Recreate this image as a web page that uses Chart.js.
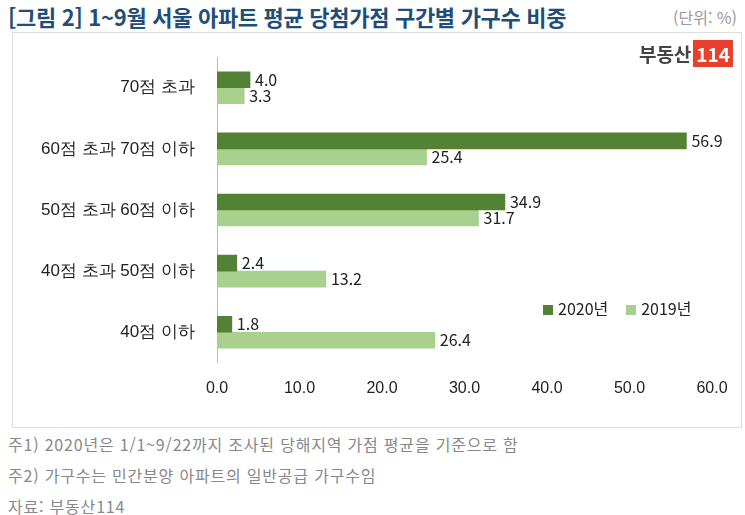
<!DOCTYPE html>
<html lang="ko">
<head>
<meta charset="UTF-8" />
<script src="https://cdn.jsdelivr.net/npm/chart.js@4.4.0/dist/chart.umd.min.js"></script>
<style>
  body { margin: 0; width: 745px; height: 515px; background: #fff; font-family: "Noto Sans CJK KR", "Noto Sans", sans-serif; position: relative; overflow: hidden; }
  .title { position: absolute; left: 8px; top: 0px; font-size: 22px; font-weight: bold; color: #1f4e79; letter-spacing: -0.3px; }
  .unit { position: absolute; right: 8px; top: 5px; font-size: 16px; color: #999; }
  .box { position: absolute; left: 12px; top: 32px; width: 728px; height: 394px; border: 1px solid #ddd; }
  .logo { position: absolute; right: 12px; top: 40px; font-size: 19px; font-weight: bold; color: #444; }
  .logo span { background: #e8402c; color: #fff; padding: 0 3px; margin-left: 2px; }
  .legend { position: absolute; left: 543px; top: 296px; font-size: 16px; color: #222; }
  .legend i { display: inline-block; width: 10px; height: 10px; margin: 0 5px 0 0; }
  .wrap { position: absolute; left: 13px; top: 33px; width: 727px; height: 373px; }
  .note { position: absolute; left: 8px; font-size: 16px; color: #888; letter-spacing: 0.8px; }
</style>
</head>
<body>
<div class="title">[그림 2] 1~9월 서울 아파트 평균 당첨가점 구간별 가구수 비중</div>
<div class="unit">(단위: %)</div>
<div class="box"></div>
<div class="wrap"><canvas id="c"></canvas></div>
<div class="logo">부동산<span>114</span></div>
<div class="legend"><i style="background:#548235"></i>2020년&nbsp;&nbsp;&nbsp;&nbsp;<i style="background:#a9d18e"></i>2019년</div>
<div class="note" style="top:432px">주1) 2020년은 1/1~9/22까지 조사된 당해지역 가점 평균을 기준으로 함</div>
<div class="note" style="top:463px">주2) 가구수는 민간분양 아파트의 일반공급 가구수임</div>
<div class="note" style="top:494px">자료: 부동산114</div>
<script>
const categories = ['70점 초과', '60점 초과 70점 이하', '50점 초과 60점 이하', '40점 초과 50점 이하', '40점 이하'];
const values2020 = [4.0, 56.9, 34.9, 2.4, 1.8];
const values2019 = [3.3, 25.4, 31.7, 13.2, 26.4];

const labelPlugin = {
  id: 'vals',
  afterDatasetsDraw(chart) {
    const ctx = chart.ctx;
    ctx.save();
    ctx.font = '16px "Noto Sans CJK KR", sans-serif';
    ctx.fillStyle = '#222';
    ctx.textBaseline = 'middle';
    chart.data.datasets.forEach((ds, i) => {
      chart.getDatasetMeta(i).data.forEach((bar, j) => {
        ctx.fillText(ds.data[j].toFixed(1), bar.x + 5, bar.y);
      });
    });
    ctx.restore();
  }
};

new Chart(document.getElementById('c'), {
  type: 'bar',
  data: {
    labels: categories,
    datasets: [
      { label: '2020년', data: values2020, backgroundColor: '#548235', barThickness: 16 },
      { label: '2019년', data: values2019, backgroundColor: '#a9d18e', barThickness: 16 }
    ]
  },
  options: {
    indexAxis: 'y',
    responsive: true,
    maintainAspectRatio: false,
    animation: false,
    layout: { padding: { top: 0, right: 28, bottom: 0, left: 0 } },
    plugins: { legend: { display: false }, tooltip: { enabled: false } },
    scales: {
      x: {
        min: 0, max: 60,
        grid: { display: false },
        border: { display: false },
        ticks: { stepSize: 10, color: '#222', font: { size: 16 }, padding: 8, callback: (v) => v.toFixed(1) }
      },
      y: {
        grid: { display: false },
        border: { color: '#bbb' },
        afterFit: (s) => { s.width = 204; },
        ticks: { color: '#222', font: { size: 17 }, padding: 14 }
      }
    }
  },
  plugins: [labelPlugin]
});
</script>
</body>
</html>
